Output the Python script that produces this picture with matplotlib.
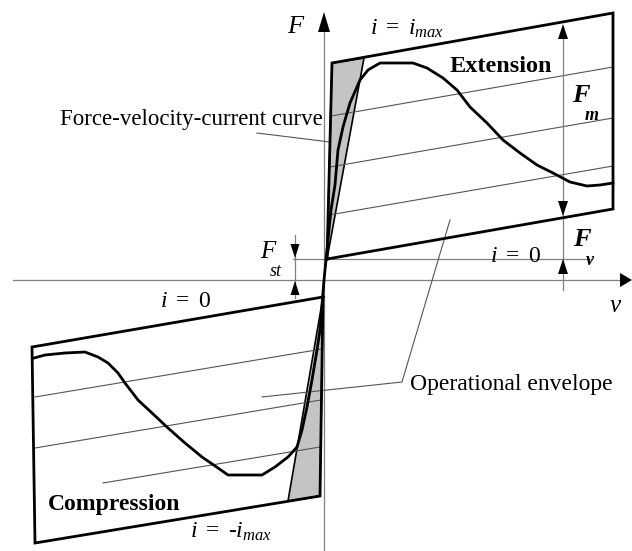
import matplotlib
matplotlib.use("Agg")
import matplotlib.pyplot as plt

plt.rcParams['font.family'] = ['Liberation Serif', 'DejaVu Serif']
plt.rcParams['mathtext.fontset'] = 'custom'
plt.rcParams['mathtext.rm'] = 'Liberation Serif'
plt.rcParams['mathtext.it'] = 'Liberation Serif:italic'
plt.rcParams['mathtext.bf'] = 'Liberation Serif:bold'

# ---- data (v = velocity, F = force; origin at axis crossing) ----
upper_box_v = [3, 8, 289, 289, 3]
upper_box_F = [21, 217, 267, 71, 21]
lower_box_v = [-1, -292, -289, -4, -1]
lower_box_F = [-17, -67, -263, -216, -17]

upper_shade_v = [3, 8, 40]
upper_shade_F = [21, 217, 222]
lower_shade_v = [-1, -4, -36]
lower_shade_F = [-17, -216, -221]

# constant-current lines inside the envelope
upper_lines = [((7, 289), (164, 213)), ((6, 289), (113, 162)), ((5, 289), (65, 114))]
lower_lines = [((-289, -2), (-117, -69)), ((-289, -3), (-168, -120)), ((-221, -4), (-203, -167))]

# force-velocity-current curve
curve_v = [-290, -279, -259, -239, -226, -216, -206, -199, -186, -172, -156, -139, -122,
           -106, -96, -62, -49, -36, -27, -22, -17, -12, -7, -4, 0,
           4, 7, 11, 14, 19, 26, 36, 44, 56, 89, 103, 119, 133, 146, 163, 179, 196,
           213, 229, 246, 263, 276, 289]
curve_F = [-78, -75, -73, -72, -77, -83, -93, -103, -120, -133, -148, -163, -177,
           -188, -195, -195, -187, -177, -167, -150, -127, -100, -70, -50, 0,
           40, 70, 95, 130, 153, 177, 200, 210, 217, 217, 212, 202, 190, 173, 157, 140, 127,
           115, 107, 98, 94, 95, 97]

F_st = 21
v_dim = 239
fvc_leader_v = [-67, 6]
fvc_leader_F = [147, 138]
op_leader_v = [-62, 78, 126]
op_leader_F = [-117, -102, 60]

fig = plt.figure(figsize=(6.32, 5.51), dpi=100)
ax = fig.add_axes([0, 0, 1, 1])
ax.set_xlim(-324, 308)
ax.set_ylim(-271, 280)
ax.axis('off')

thin = '#808080'
# axes
ax.plot([0, 0], [-271, 250], color=thin, lw=0.9, zorder=1)
ax.plot([-311, 300], [0, 0], color=thin, lw=0.9, zorder=1)
ax.plot([-31, 268], [F_st, F_st], color=thin, lw=0.9, zorder=1)

def arrowhead(x, tip, direction, length=15, width=11, horiz=False):
    if horiz:
        xs = [tip, tip - direction * length, tip - direction * length]
        ys = [x, x + width / 2, x - width / 2]
    else:
        xs = [x, x - width / 2, x + width / 2]
        ys = [tip, tip - direction * length, tip - direction * length]
    ax.fill(xs, ys, color='black', lw=0, zorder=6)

arrowhead(0, 268, 1, length=20, width=12)
arrowhead(0, 308, 1, length=12, width=14, horiz=True)

# shading
ax.fill(upper_shade_v, upper_shade_F, facecolor='#c4c4c4', edgecolor='black', lw=1.2, zorder=2)
ax.fill(lower_shade_v, lower_shade_F, facecolor='#c4c4c4', edgecolor='black', lw=1.2, zorder=2)

# thin constant-current lines
for (vs, fs_) in upper_lines + lower_lines:
    ax.plot(vs, fs_, color='#555555', lw=0.8, zorder=3)

# envelope boxes
ax.plot(upper_box_v, upper_box_F, color='black', lw=2.0, zorder=4, solid_joinstyle='miter')
ax.plot(lower_box_v, lower_box_F, color='black', lw=2.0, zorder=4, solid_joinstyle='miter')

# curve
ax.plot(curve_v, curve_F, color='black', lw=2.0, zorder=5, solid_joinstyle='round')

# leaders
ax.plot(fvc_leader_v, fvc_leader_F, color='#555555', lw=0.8, zorder=3)
ax.plot(op_leader_v, op_leader_F, color='#555555', lw=0.8, zorder=3)

# dimension lines
ax.plot([v_dim, v_dim], [-10, 253], color=thin, lw=0.9, zorder=3)
arrowhead(v_dim, 256, 1, length=15, width=10)
arrowhead(v_dim, 64, -1, length=15, width=10)
arrowhead(v_dim, F_st, 1, length=15, width=10)

ax.plot([-29, -29], [-18, 45], color=thin, lw=0.9, zorder=3)
arrowhead(-29, 22, -1, length=14, width=9)
arrowhead(-29, -1, 1, length=14, width=9)

fs = 17
ax.text(-29, 253, 'F', style='italic', fontsize=19, ha='center', va='center')
ax.text(46, 245, r'$i\ =\ i_{max}$', fontsize=fs, ha='left', va='baseline')
ax.text(126, 208, 'Extension', fontweight='bold', fontsize=17.5, ha='left', va='baseline')
ax.text(248, 178, 'F', fontweight='bold', style='italic', fontsize=19, ha='left', va='baseline')
ax.text(261, 160, 'm', fontweight='bold', style='italic', fontsize=13, ha='left', va='baseline')
ax.text(249, 34, 'F', fontweight='bold', style='italic', fontsize=19, ha='left', va='baseline')
ax.text(262, 15, 'v', fontweight='bold', style='italic', fontsize=13, ha='left', va='baseline')
ax.text(166, 18, r'$i\ =\ 0$', fontsize=fs, ha='left', va='baseline')
ax.text(-64, 22, 'F', style='italic', fontsize=18, ha='left', va='baseline')
ax.text(-54, 4, 'st', style='italic', fontsize=13, ha='left', va='baseline')
ax.text(286, -32, 'v', style='italic', fontsize=18, ha='left', va='baseline')
ax.text(-164, -27, r'$i\ =\ 0$', fontsize=fs, ha='left', va='baseline')
ax.text(-1, 155, 'Force-velocity-current curve', fontsize=16.5, ha='right', va='baseline')
ax.text(86, -110, 'Operational envelope', fontsize=17, ha='left', va='baseline')
ax.text(-276, -230, 'Compression', fontweight='bold', fontsize=17, ha='left', va='baseline')
ax.text(-134, -258, r'$i\ =\ \text{-}i_{max}$', fontsize=fs, ha='left', va='baseline')

fig.savefig('out.png', dpi=100)
